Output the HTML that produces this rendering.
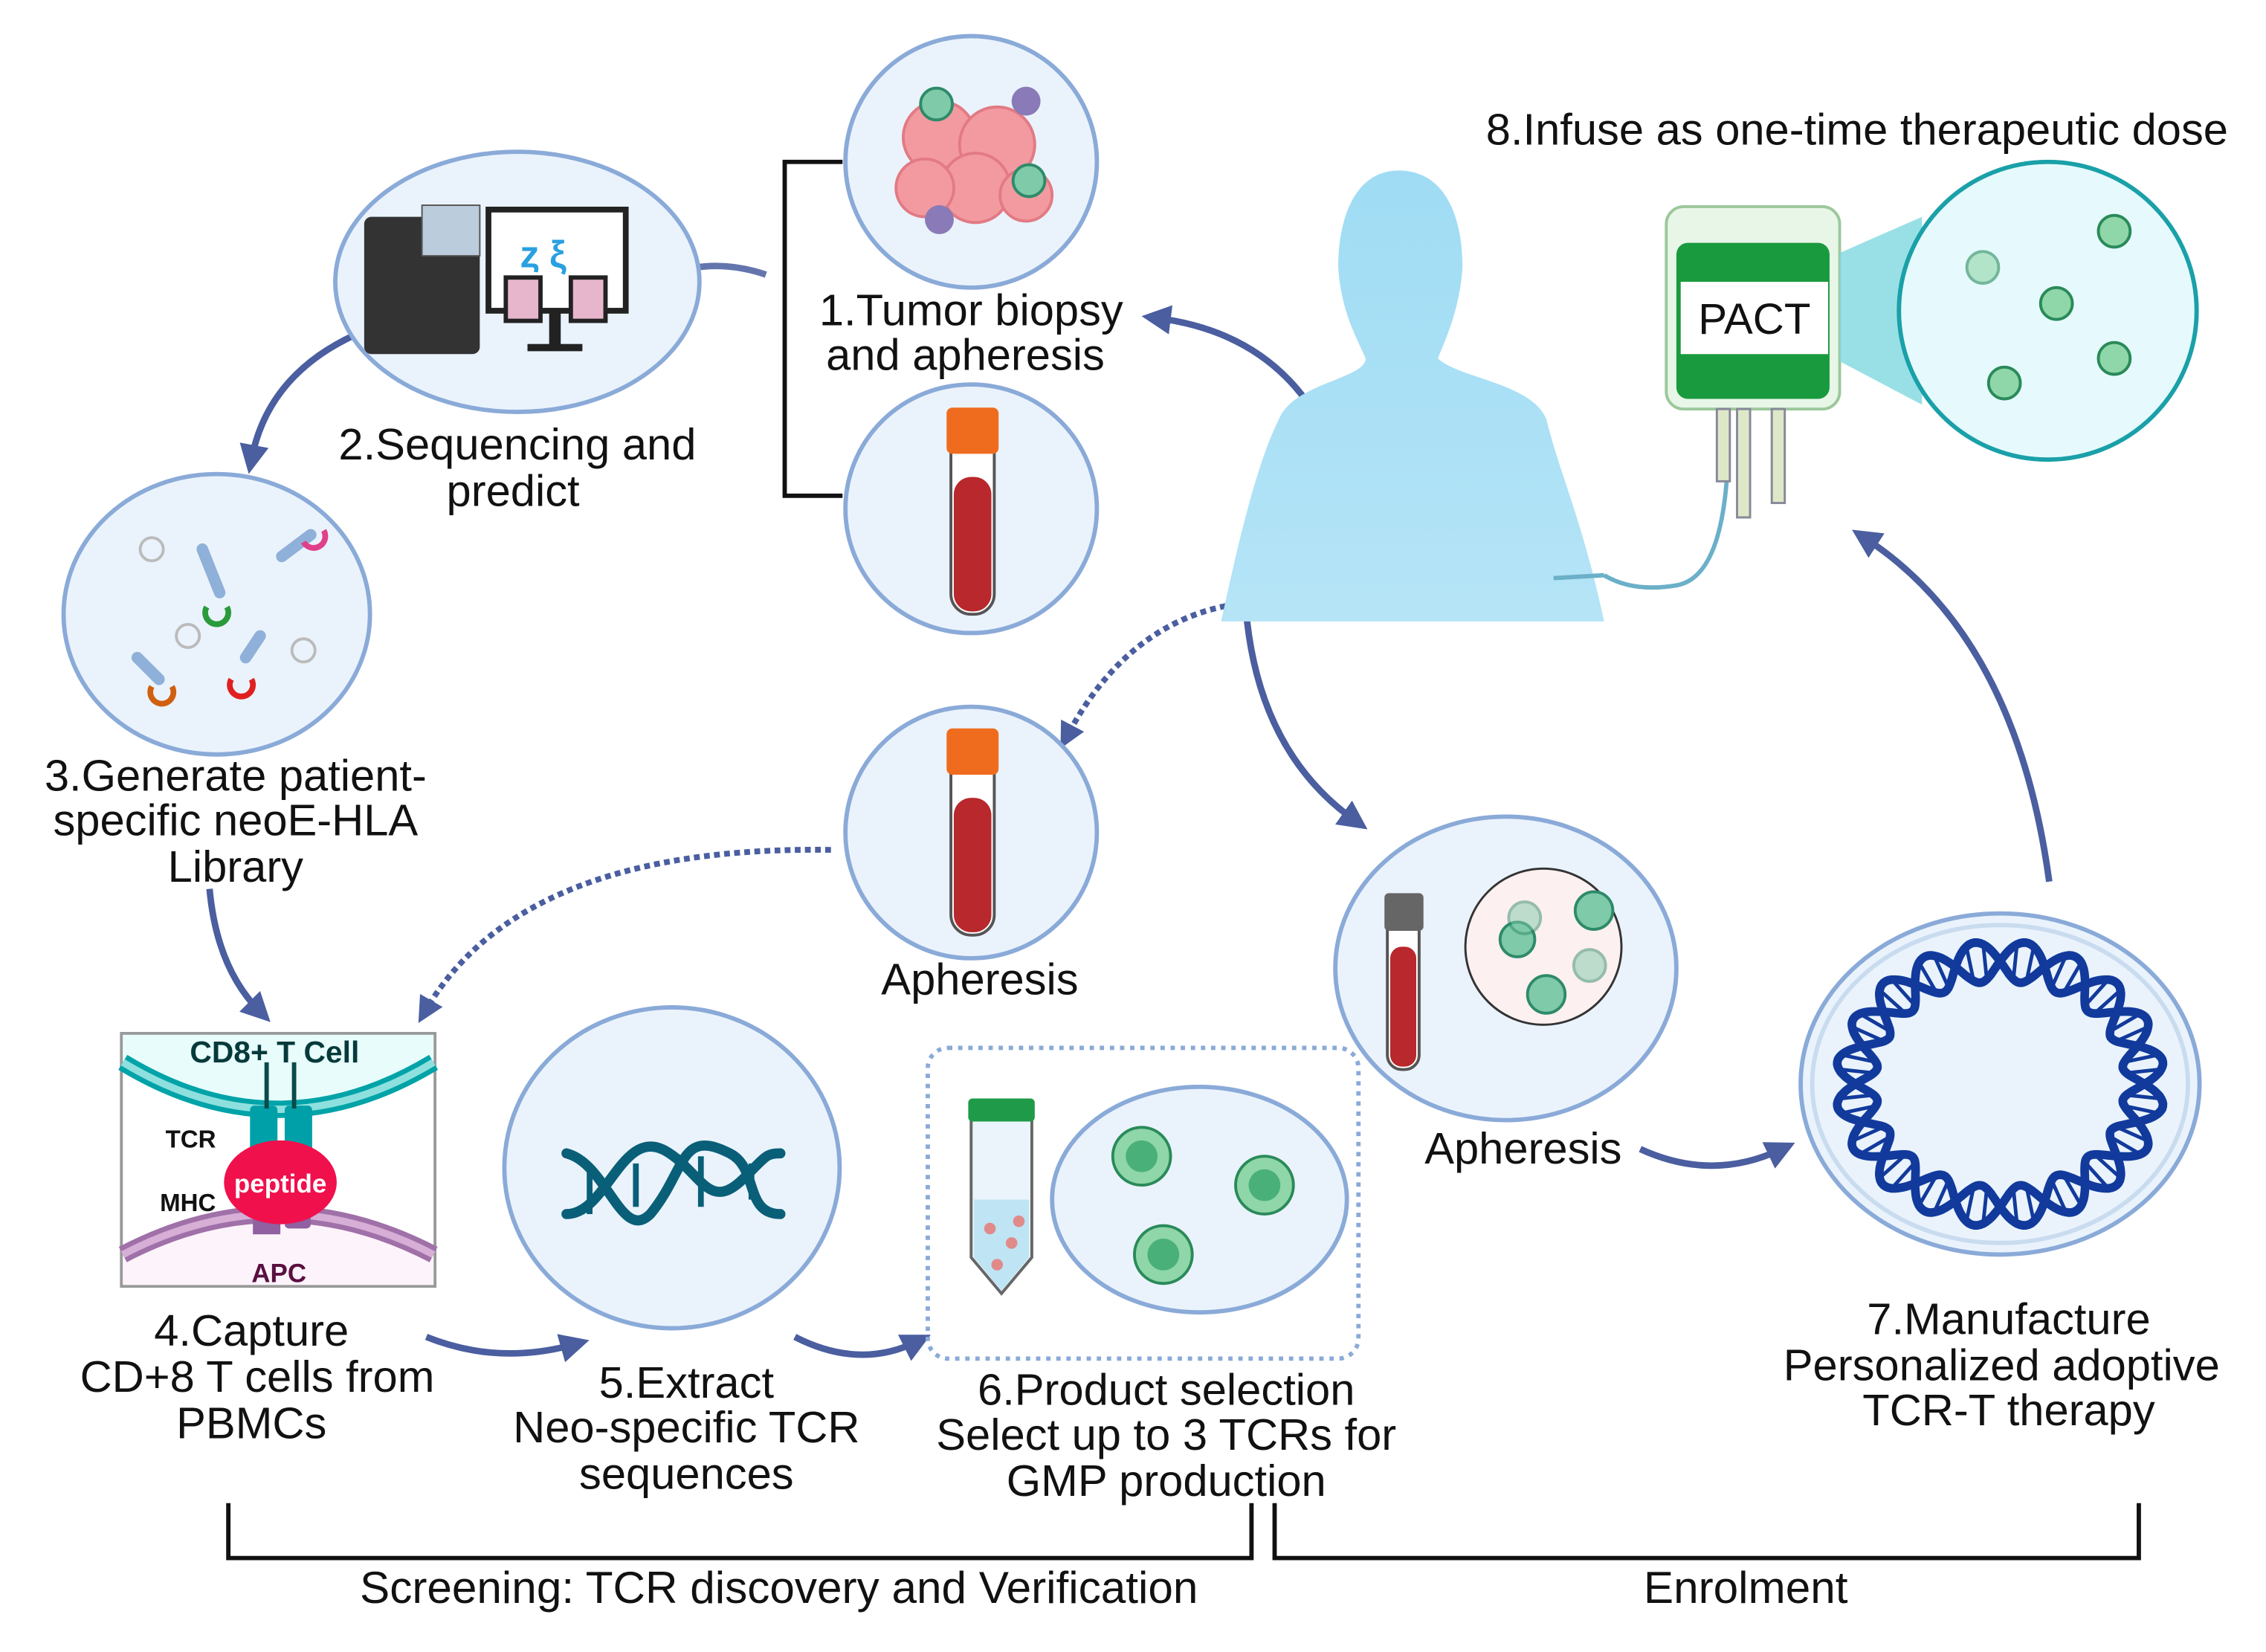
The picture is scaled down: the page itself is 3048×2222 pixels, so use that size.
<!DOCTYPE html>
<html><head><meta charset="utf-8"><style>
html,body{margin:0;padding:0;background:#fff;}
svg{display:block;}
text{font-family:"Liberation Sans",Arial,sans-serif;fill:#111;}
</style></head><body>
<svg id="s" width="3048" height="2222" viewBox="0 0 1568 1143" preserveAspectRatio="none" xmlns="http://www.w3.org/2000/svg">
<defs>
<marker id="ah" viewBox="0 0 10 10" refX="5" refY="5" markerWidth="4.5" markerHeight="4.5" orient="auto"><path d="M0,0 L10,5 L0,10 z" fill="#4a5ea0"/></marker>
<linearGradient id="body" x1="0" y1="0" x2="0" y2="1"><stop offset="0" stop-color="#9fdcf4"/><stop offset="1" stop-color="#b5e4f6"/></linearGradient>
</defs>
<g fill="none" stroke="#4a5ea0" stroke-width="4.5" marker-end="url(#ah)">
<path d="M530,190 Q495,178 462,190" opacity="0.85"/>
<path d="M245,232 Q185,260 174,318"/>
<path d="M145,615 Q150,670 180,700"/>
<path d="M295,925 Q345,945 398,930"/>
<path d="M550,925 Q595,948 635,928"/>
<path d="M915,295 Q880,230 800,220"/>
<path d="M862,420 Q870,520 938,568"/>
<path d="M1135,795 Q1185,818 1233,795"/>
<path d="M1418,610 Q1395,440 1290,372"/>
</g>
<g fill="none" stroke="#4a5ea0" stroke-width="4" stroke-dasharray="4,3" marker-end="url(#ah)">
<path d="M855,418 Q780,430 738,510"/>
<path d="M575,588 Q360,585 294,700"/>
</g>
<path d="M583,112 H543 V343 H583" fill="none" stroke="#111" stroke-width="3"/>
<g fill="#eaf3fc" stroke="#8aaad8" stroke-width="3">
<ellipse cx="672" cy="112" rx="87" ry="87"/>
<ellipse cx="672" cy="352" rx="87" ry="86"/>
<ellipse cx="358" cy="195" rx="126" ry="90"/>
<ellipse cx="150" cy="425" rx="106" ry="97"/>
<ellipse cx="465" cy="808" rx="116" ry="111"/>
<ellipse cx="672" cy="576" rx="87" ry="87"/>
<ellipse cx="1042" cy="670" rx="118" ry="105"/>
<ellipse cx="1384" cy="750" rx="138" ry="118"/>
<ellipse cx="830" cy="830" rx="102" ry="78"/>
</g>
<ellipse cx="1384" cy="750" rx="130" ry="110" fill="none" stroke="#c9dcef" stroke-width="3"/>
<g fill="#f29aa0" stroke="#e27a84" stroke-width="2">
<circle cx="650" cy="95" r="25"/><circle cx="690" cy="100" r="26"/><circle cx="675" cy="130" r="24"/><circle cx="640" cy="130" r="20"/><circle cx="710" cy="135" r="18"/>
</g>
<circle cx="648" cy="72" r="11" fill="#7fcaa8" stroke="#2e8a6a" stroke-width="2"/>
<circle cx="712" cy="125" r="11" fill="#7fcaa8" stroke="#2e8a6a" stroke-width="2"/>
<circle cx="710" cy="70" r="10" fill="#8a7ab8"/><circle cx="650" cy="152" r="10" fill="#8a7ab8"/>
<g id="tube">
<rect x="658" y="285" width="30" height="140" rx="14" fill="#fff" stroke="#555" stroke-width="2"/>
<rect x="660" y="330" width="26" height="93" rx="12" fill="#b8282c"/>
<rect x="655" y="282" width="36" height="32" rx="4" fill="#ef6c1e"/>
</g>
<use href="#tube" x="0" y="222"/>
<rect x="960" y="620" width="22" height="120" rx="10" fill="#fff" stroke="#555" stroke-width="2"/>
<rect x="962" y="655" width="18" height="83" rx="8" fill="#b8282c"/>
<rect x="958" y="618" width="27" height="26" rx="3" fill="#666"/>
<circle cx="1068" cy="655" r="54" fill="#fdf0f0" stroke="#333" stroke-width="1.5"/>
<g fill="#7fcaa8" stroke="#2e8a6a" stroke-width="2"><circle cx="1050" cy="650" r="12"/><circle cx="1103" cy="630" r="13"/><circle cx="1070" cy="688" r="13"/><circle cx="1100" cy="668" r="11" opacity="0.5"/><circle cx="1055" cy="635" r="11" opacity="0.5"/></g>
<rect x="252" y="150" width="80" height="95" rx="5" fill="#333"/>
<rect x="292" y="142" width="40" height="35" fill="#bcd" stroke="#555"/>
<rect x="338" y="145" width="95" height="70" fill="#fff" stroke="#222" stroke-width="4"/>
<rect x="380" y="215" width="8" height="25" fill="#222"/><rect x="365" y="238" width="38" height="5" fill="#222"/>
<text x="360" y="185" font-size="26" style="fill:#29a0e0" font-weight="bold">ȥ  ξ</text>
<rect x="350" y="192" width="24" height="30" fill="#e7b5cc" stroke="#222" stroke-width="3"/>
<rect x="395" y="192" width="24" height="30" fill="#e7b5cc" stroke="#222" stroke-width="3"/>
<g stroke-width="8" stroke-linecap="round">
<line x1="140" y1="380" x2="152" y2="410" stroke="#8fb0d8"/><line x1="195" y1="385" x2="215" y2="370" stroke="#8fb0d8"/>
<line x1="95" y1="455" x2="110" y2="470" stroke="#8fb0d8"/><line x1="170" y1="455" x2="180" y2="440" stroke="#8fb0d8"/>
</g>
<g fill="none" stroke-width="4"><path d="M143,420 a8,8 0 1 0 14,0" stroke="#2a9a3a"/><path d="M210,375 a8,8 0 1 0 14,-8" stroke="#e0408a"/><path d="M105,475 a8,8 0 1 0 14,0" stroke="#d06010"/><path d="M160,470 a8,8 0 1 0 14,0" stroke="#e02020"/></g>
<g fill="none" stroke="#bbb" stroke-width="2"><circle cx="105" cy="380" r="8"/><circle cx="130" cy="440" r="8"/><circle cx="210" cy="450" r="8"/></g>
<rect x="84" y="715" width="217" height="175" fill="#fff" stroke="#999" stroke-width="2"/>
<path d="M85,716 H300 V740 Q192,800 85,740 Z" fill="#e8fcfc"/>
<path d="M85,735 Q192,800 300,735" fill="none" stroke="#00a3a8" stroke-width="12"/>
<path d="M85,735 Q192,800 300,735" fill="none" stroke="#8de0de" stroke-width="5"/>
<path d="M85,870 Q192,815 300,870 V889 H85 Z" fill="#fdf3fa"/>
<path d="M85,868 Q192,812 300,868" fill="none" stroke="#a070a8" stroke-width="12"/>
<path d="M85,868 Q192,812 300,868" fill="none" stroke="#d6aed6" stroke-width="5"/>
<rect x="173" y="765" width="19" height="45" rx="3" fill="#00a0a8"/><rect x="197" y="765" width="19" height="45" rx="3" fill="#00a0a8"/>
<rect x="183" y="735" width="3" height="32" fill="#0a4a4a"/><rect x="202" y="735" width="3" height="32" fill="#0a4a4a"/>
<rect x="175" y="830" width="19" height="24" fill="#9060a0"/><rect x="197" y="830" width="18" height="20" rx="3" fill="#9060a0"/>
<ellipse cx="194" cy="818" rx="39" ry="29" fill="#f0104c"/>
<text x="194" y="825" font-size="18" font-weight="bold" text-anchor="middle" style="fill:#fff">peptide</text>
<text x="190" y="735" font-size="21" font-weight="bold" text-anchor="middle" style="fill:#063a3a">CD8+ T Cell</text>
<text x="132" y="794" font-size="17" font-weight="bold" text-anchor="middle">TCR</text>
<text x="130" y="838" font-size="17" font-weight="bold" text-anchor="middle">MHC</text>
<text x="193" y="887" font-size="18" font-weight="bold" text-anchor="middle" style="fill:#5a1040">APC</text>
<g fill="none" stroke="#0a5f78" stroke-width="7" stroke-linecap="round">
<path d="M392,798 C420,805 430,860 450,840 C475,810 470,780 505,798 C525,808 515,840 540,840"/>
<path d="M392,840 C420,840 430,780 460,796 C485,810 490,840 515,815 C530,800 530,798 540,798"/>
</g>
<g stroke="#0a5f78" stroke-width="4"><line x1="408" y1="805" x2="408" y2="840"/><line x1="440" y1="805" x2="440" y2="835"/><line x1="485" y1="800" x2="485" y2="835"/><line x1="520" y1="805" x2="520" y2="830"/></g>
<rect x="642" y="725" width="298" height="215" rx="14" fill="none" stroke="#8aaad8" stroke-width="3" stroke-dasharray="3,4"/>
<path d="M672,772 H714 V870 L693,895 L672,870 Z" fill="#eaf4fa" stroke="#666" stroke-width="2"/>
<path d="M674,830 H712 V870 L693,893 L674,870 Z" fill="#bfe4f4"/>
<g fill="#e08a8a"><circle cx="685" cy="850" r="4"/><circle cx="700" cy="860" r="4"/><circle cx="690" cy="875" r="4"/><circle cx="705" cy="845" r="4"/></g>
<rect x="670" y="760" width="46" height="16" rx="3" fill="#1e9a48"/>
<g fill="#8fd6a8" stroke="#2a8a5a" stroke-width="2"><circle cx="790" cy="800" r="20"/><circle cx="875" cy="820" r="20"/><circle cx="805" cy="868" r="20"/></g>
<g fill="#4ab07a"><circle cx="790" cy="800" r="11"/><circle cx="875" cy="820" r="11"/><circle cx="805" cy="868" r="11"/></g>
<path d="M968,118 C1000,118 1012,150 1012,185 C1010,215 1000,235 995,248 C1010,262 1060,265 1070,290 C1080,330 1095,360 1110,430 H845 C858,370 870,320 885,290 C895,265 945,262 945,248 C938,232 928,215 926,185 C926,150 938,118 968,118 Z" fill="url(#body)"/>
<path d="M1075,400 L1110,398 M1110,398 Q1130,410 1160,405 Q1190,400 1195,330" fill="none" stroke="#6ab0c8" stroke-width="3"/>
<rect x="1153" y="143" width="120" height="140" rx="12" fill="#e8f6e8" stroke="#9cc89c" stroke-width="2"/>
<rect x="1160" y="168" width="106" height="108" rx="8" fill="#1a9a3e"/>
<rect x="1163" y="195" width="102" height="50" fill="#fff"/>
<text x="1214" y="231" font-size="30" text-anchor="middle">PACT</text>
<g fill="#dde8c8" stroke="#889" stroke-width="1.5"><rect x="1188" y="283" width="9" height="50"/><rect x="1202" y="283" width="9" height="75"/><rect x="1226" y="283" width="9" height="65"/></g>
<path d="M1273,175 L1330,150 L1330,280 L1273,250 Z" fill="#7fd8e0" opacity="0.8"/>
<circle cx="1417" cy="215" r="103" fill="#e6fafd" stroke="#1aa0a8" stroke-width="3"/>
<g fill="#8fd6a8" stroke="#2a8a5a" stroke-width="2"><circle cx="1372" cy="185" r="11" opacity="0.6"/><circle cx="1463" cy="160" r="11"/><circle cx="1423" cy="210" r="11"/><circle cx="1463" cy="248" r="11"/><circle cx="1387" cy="265" r="11"/></g>
<path id="r1" fill="none" stroke="#123a9c" stroke-width="6"/>
<path id="r2" fill="none" stroke="#123a9c" stroke-width="6"/>
<path id="r3" fill="none" stroke="#123a9c" stroke-width="2.5"/>
<path d="M158,1040 V1078 H866 V1040 M882,1040 V1078 H1480 V1040" fill="none" stroke="#111" stroke-width="3"/>
<g font-size="30.7" text-anchor="middle">
<text x="672" y="225">1.Tumor biopsy</text><text x="668" y="256">and apheresis</text>
<text x="358" y="318">2.Sequencing and</text><text x="355" y="350">predict</text>
<text x="163" y="547">3.Generate patient-</text><text x="163" y="578">specific neoE-HLA</text><text x="163" y="610">Library</text>
<text x="174" y="931">4.Capture</text><text x="178" y="963">CD+8  T cells from</text><text x="174" y="995">PBMCs</text>
<text x="475" y="967">5.Extract</text><text x="475" y="998">Neo-specific TCR</text><text x="475" y="1030">sequences</text>
<text x="807" y="972">6.Product selection</text><text x="807" y="1003">Select up to 3 TCRs for</text><text x="807" y="1035">GMP production</text>
<text x="678" y="688">Apheresis</text><text x="1054" y="805">Apheresis</text>
<text x="1390" y="923">7.Manufacture</text><text x="1385" y="955">Personalized adoptive</text><text x="1390" y="986">TCR-T therapy</text>
<text x="1285" y="100">8.Infuse as one-time therapeutic dose</text>
<text x="539" y="1109" font-size="31">Screening: TCR discovery and Verification</text>
<text x="1208" y="1109" font-size="31">Enrolment</text>
</g>
</svg>
<script>
(function(){var cx=1384,cy=750,a='',b='',c='';var N=360;for(var i=0;i<=N;i++){var t=i/N*2*Math.PI;var w=Math.sin(t*10)*14;var rx=100,ry=85;var x1=cx+(rx+w)*Math.cos(t),y1=cy+(ry+w)*Math.sin(t);var x2=cx+(rx-w)*Math.cos(t),y2=cy+(ry-w)*Math.sin(t);a+=(i?'L':'M')+x1.toFixed(1)+','+y1.toFixed(1);b+=(i?'L':'M')+x2.toFixed(1)+','+y2.toFixed(1);if(i%6==0&&Math.abs(w)>3)c+='M'+x1.toFixed(1)+','+y1.toFixed(1)+'L'+x2.toFixed(1)+','+y2.toFixed(1);}
document.getElementById('r1').setAttribute('d',a);document.getElementById('r2').setAttribute('d',b);document.getElementById('r3').setAttribute('d',c);})();
</script>
</body></html>
